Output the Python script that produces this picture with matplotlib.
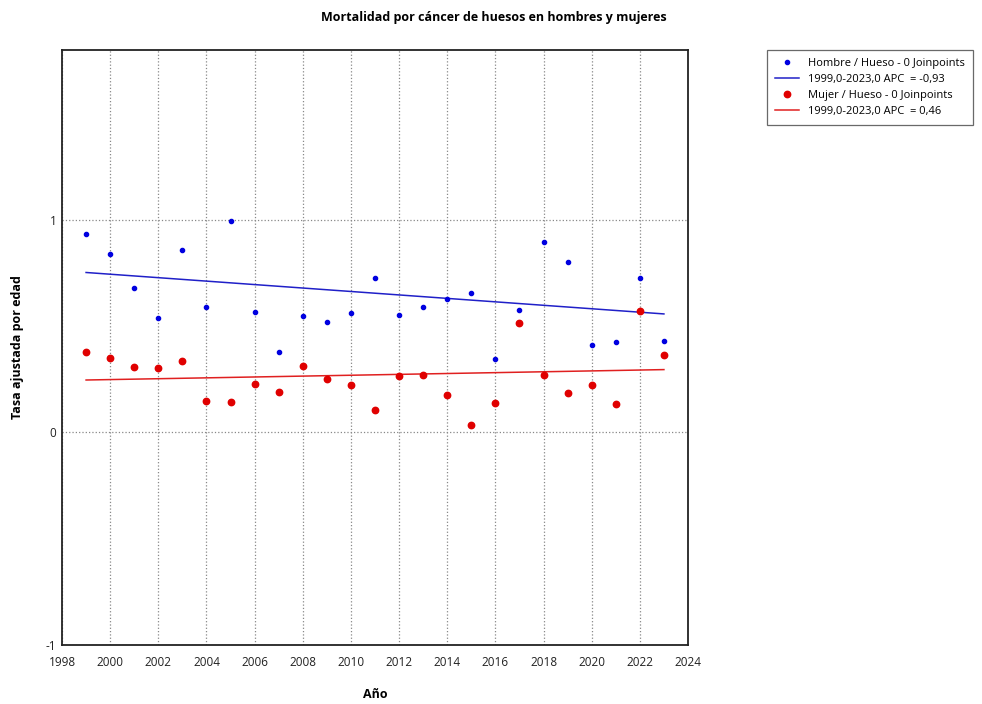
import matplotlib
matplotlib.use("Agg")
import matplotlib.pyplot as plt

plt.rcParams['font.family'] = ['Open Sans', 'DejaVu Sans']
plt.rcParams['axes.unicode_minus'] = False

years = list(range(1999, 2024))
hombre = [0.935, 0.841, 0.681, 0.539, 0.858, 0.591, 0.997, 0.567, 0.379, 0.547,
          0.522, 0.564, 0.725, 0.555, 0.592, 0.627, 0.658, 0.345, 0.578, 0.895,
          0.802, 0.414, 0.428, 0.726, 0.431]
mujer = [0.381, 0.349, 0.310, 0.303, 0.338, 0.148, 0.143, 0.230, 0.189, 0.311,
         0.250, 0.222, 0.107, 0.267, 0.272, 0.175, 0.033, 0.138, 0.516, 0.272,
         0.187, 0.223, 0.135, 0.572, 0.364]

# fitted segment endpoints (1999 and 2023)
fit_years = [1999, 2023]
fit_hombre = [0.753, 0.558]
fit_mujer = [0.247, 0.296]

x_ticks = list(range(1998, 2025, 2))
y_ticks = [-1, 0, 1]

fig = plt.figure(figsize=(9.82, 7.04), dpi=100)
ax = fig.add_axes([62 / 982, 1 - 645 / 704, 626 / 982, 595 / 704])

ax.plot(years, hombre, 'o', color='#0000e0', markersize=3, linestyle='none',
        label='Hombre / Hueso - 0 Joinpoints', zorder=3)
ax.plot(fit_years, fit_hombre, color='#2020c8', linewidth=1.1,
        label='1999,0-2023,0 APC  = -0,93', zorder=2)
ax.plot(years, mujer, 'o', color='#e00000', markersize=4.6, linestyle='none',
        label='Mujer / Hueso - 0 Joinpoints', zorder=3)
ax.plot(fit_years, fit_mujer, color='#e02020', linewidth=1.1,
        label='1999,0-2023,0 APC  = 0,46', zorder=2)

ax.set_xlim(1998, 2024)
ax.set_ylim(-1, 1.8)
ax.set_xticks(x_ticks)
ax.set_yticks(y_ticks)
ax.tick_params(length=0, labelsize=8.5, colors='#222222')
ax.tick_params(axis='x', pad=8)
ax.tick_params(axis='y', pad=4)
ax.grid(True, linestyle=':', color='#888888', linewidth=0.9)
for s in ax.spines.values():
    s.set_linewidth(1.3)
    s.set_color('#222222')

fig.text(375 / 982, 1 - 695 / 704, 'Año', fontsize=9, fontweight='bold',
         ha='center', va='center')
fig.text(18 / 982, 1 - 347 / 704, 'Tasa ajustada por edad', fontsize=9,
         fontweight='bold', rotation=90, ha='center', va='center')
fig.suptitle('Mortalidad por cáncer de huesos en hombres y mujeres',
             fontsize=9, fontweight='bold', x=0.503, y=0.985)

leg = fig.legend(loc='upper left', bbox_to_anchor=(767 / 982, 1 - 50 / 704),
                 fontsize=8, frameon=True, fancybox=False, edgecolor='#444444',
                 handlelength=2.2, borderpad=0.7, labelspacing=0.45,
                 borderaxespad=0)
leg.get_frame().set_linewidth(0.9)

fig.savefig('out.png', dpi=100)
